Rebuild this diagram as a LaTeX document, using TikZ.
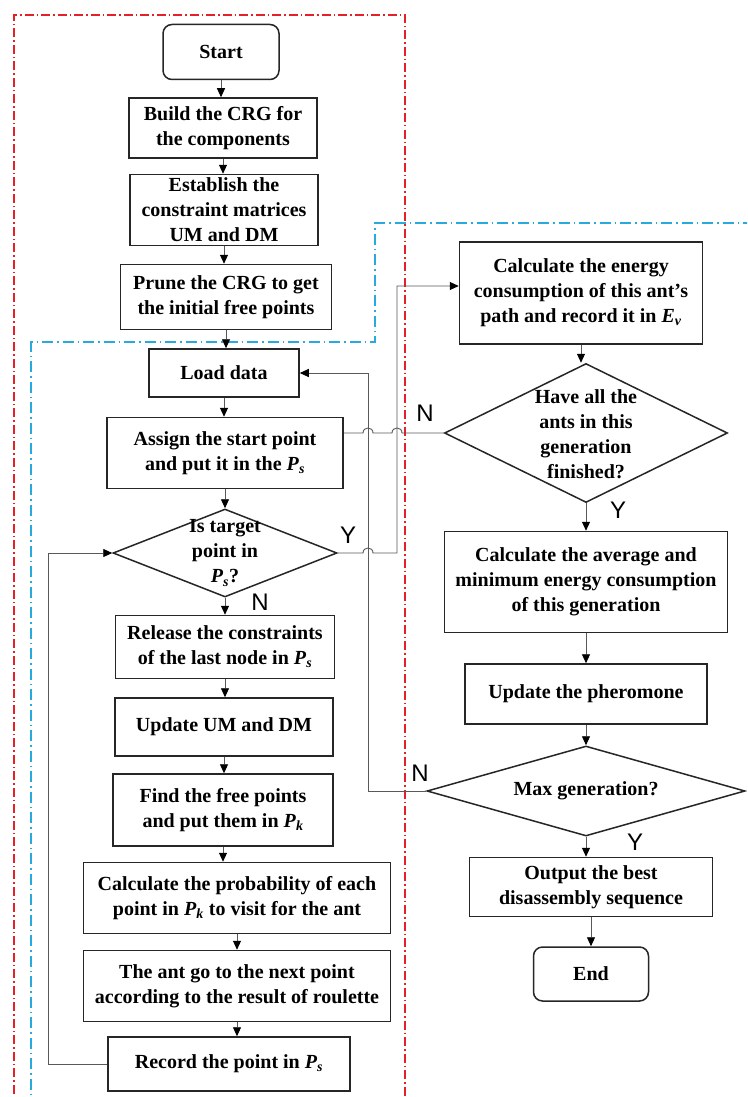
\documentclass[tikz,border=0pt]{standalone}
\usepackage{fontspec}
\setmainfont{Liberation Serif}
\newfontfamily\labfont{Liberation Sans}
\usetikzlibrary{shapes.geometric,arrows.meta}
\definecolor{redline}{RGB}{228,32,40}
\definecolor{blueline}{RGB}{40,170,222}
\newcommand{\mysub}[2]{\textit{#1}\textsubscript{\textit{#2}}}
\begin{document}
\begin{tikzpicture}[x=1pt,y=-1pt,
 box/.style={draw=black!85, line width=1.5pt, align=center, inner sep=0pt, font=\fontsize{20}{25}\selectfont\bfseries},
 rbox/.style={box, rounded corners=9pt},
 dia/.style={diamond, draw=black!85, line width=1.5pt, inner sep=0pt},
 dtext/.style={align=center, font=\fontsize{20}{25}\selectfont\bfseries, inner sep=0pt},
 conn/.style={draw=black!65, line width=0.9pt},
 arr/.style={conn, -{Triangle[length=9pt,width=8pt,color=black,fill=black]}},
 yn/.style={font=\labfont\fontsize{24}{24}\selectfont, inner sep=0pt},
 redframe/.style={draw=redline, line width=1.4pt, dash pattern=on 9pt off 3pt on 1.5pt off 3pt},
 blueframe/.style={draw=blueline, line width=1.4pt, dash pattern=on 11pt off 4pt on 1.5pt off 4pt},
]
\useasboundingbox (0,0) rectangle (747,1097);
\fill[white] (0,0) rectangle (747,1097);
\clip (0,0) rectangle (747,1097);

% frames
\draw[redframe] (14,1110) -- (14,15) -- (405,15) -- (405,1110);
\draw[blueframe] (31,1110) -- (31,342) -- (375,342) -- (375,223) -- (760,223);

% left column
\node[rbox, minimum width=116pt, minimum height=55pt] (start) at (221,52) {Start};
\node[box, minimum width=188pt, minimum height=60pt] (build) at (223,128) {Build the CRG for\\the components};
\node[box, minimum width=188pt, minimum height=71pt] (estab) at (224,210) {Establish the\\constraint matrices\\UM and DM};
\node[box, minimum width=211pt, minimum height=65pt] (prune) at (226,297) {Prune the CRG to get\\the initial free points};
\node[box, minimum width=150pt, minimum height=48pt] (load) at (224,373) {Load data};
\node[box, minimum width=236pt, minimum height=71pt] (assign) at (225,453) {Assign the start point\\and put it in the \mysub{P}{s}};
\node[dia, minimum width=224pt, minimum height=88pt] (d1) at (225,553) {};
\node[dtext] (d1t) at (225,553) {Is target\\point in\\\mysub{P}{s}?};
\node[box, minimum width=219pt, minimum height=63pt] (release) at (225,647) {Release the constraints\\of the last node in \mysub{P}{s}};
\node[box, minimum width=218pt, minimum height=58pt] (updum) at (224,727) {Update UM and DM};
\node[box, minimum width=220pt, minimum height=72pt] (find) at (223,810) {Find the free points\\and put them in \mysub{P}{k}};
\node[box, minimum width=307pt, minimum height=71pt] (prob) at (237,898) {Calculate the probability of each\\point in \mysub{P}{k} to visit for the ant};
\node[box, minimum width=307pt, minimum height=71pt] (antgo) at (237,986) {The ant go to the next point\\according to the result of roulette};
\node[box, minimum width=242pt, minimum height=54pt] (record) at (229,1064) {Record the point in \mysub{P}{s}};

% right column
\node[box, minimum width=243pt, minimum height=102pt] (energy) at (581,293) {Calculate the energy\\consumption of this ant’s\\path and record it in \mysub{E}{v}};
\node[dia, minimum width=283pt, minimum height=139pt] (d2) at (586,433) {};
\node[dtext] (d2t) at (586,434) {Have all the\\ants in this\\generation\\finished?};
\node[box, minimum width=283pt, minimum height=101pt] (avg) at (586,582) {Calculate the average and\\minimum energy consumption\\of this generation};
\node[box, minimum width=242pt, minimum height=60pt] (pher) at (586,694) {Update the pheromone};
\node[dia, minimum width=318pt, minimum height=90pt] (d3) at (586,791) {};
\node[dtext] (d3t) at (586,791) {Max generation?};
\node[box, minimum width=243pt, minimum height=59pt] (output) at (591,887) {Output the best\\disassembly sequence};
\node[rbox, minimum width=115pt, minimum height=54pt] (end) at (591,974) {End};

% Y/N labels
\node[yn] (n1) at (425,413) {N};
\node[yn] (y1) at (348,535) {Y};
\node[yn] (n2) at (260,602) {N};
\node[yn] (y2) at (618,510) {Y};
\node[yn] (n3) at (420,773) {N};
\node[yn] (y3) at (635,842) {Y};

% straight arrows, left column
\foreach \a/\b in {start/build,build/estab,estab/prune,prune/load,load/assign,assign/d1,d1/release,release/updum,updum/find,find/prob,prob/antgo,antgo/record}
  \draw[arr] (\a.south) -- (\a.south |- \b.north);
% right column
\foreach \a/\b in {energy/d2,d2/avg,avg/pher,pher/d3,d3/output,output/end}
  \draw[arr] (\a.south) -- (\a.south |- \b.north);

% loop back: record -> d1
\coordinate (lv) at (48,0);
\draw[arr] (record.west) -- (lv |- record.west) -- (lv |- d1.west) -- (d1.west);

% Y of d1 -> energy (with hop over x=368)
\coordinate (yv) at (397,0);
\coordinate (nv) at (368,0);
\coordinate (ein) at ([yshift=7pt]energy.west);
\draw[arr] (d1.east) -- (363,553) .. controls (363,546.3) and (373,546.3) .. (373,553)
  -- (yv |- d1.east) -- (yv |- ein) -- (ein);

% N of d2 -> assign (hops over x=397 and x=368)
\draw[conn] (d2.west) -- (402,433) .. controls (402,426.3) and (392,426.3) .. (392,433)
  -- (373,433) .. controls (373,426.3) and (363,426.3) .. (363,433)
  -- (assign.east |- d2.west);

% N of d3 -> load
\draw[arr] (d3.west) -- (nv |- d3.west) -- (nv |- load.east) -- (load.east);
\end{tikzpicture}
\end{document}
